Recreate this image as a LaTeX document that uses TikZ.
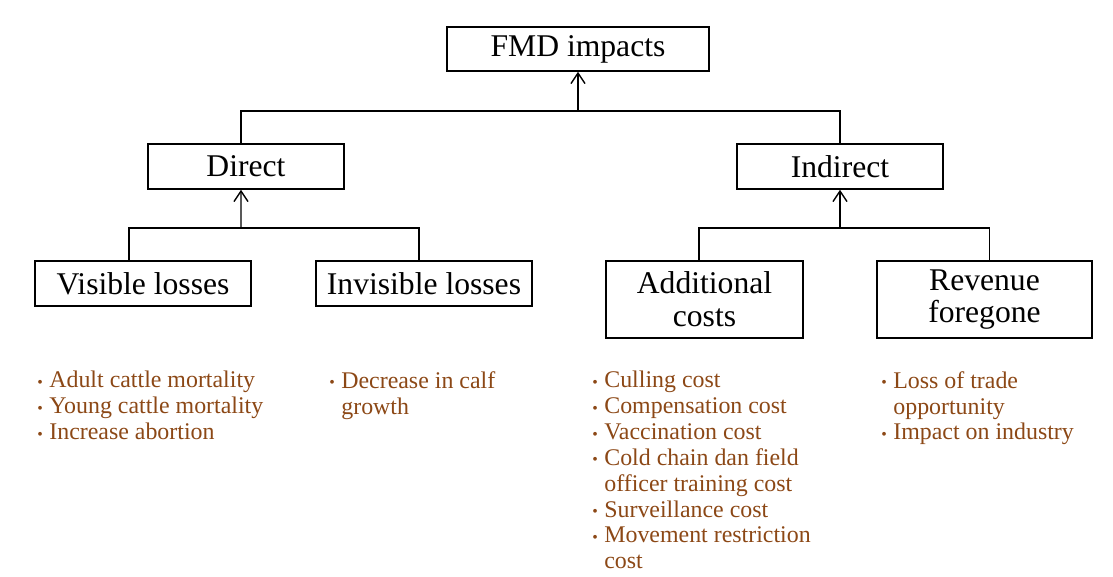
\documentclass[tikz,border=0pt]{standalone}
\usepackage{fontspec}
\setmainfont{Liberation Serif}
\usetikzlibrary{arrows.meta}
\definecolor{itembrown}{RGB}{140,72,22}
\newcommand{\bul}{\makebox[0.24cm][l]{\raisebox{0.05ex}{\small\textbullet}}}
\newcommand{\ind}{\hspace*{0.24cm}}
\tikzset{
    box/.style={draw, line width=0.9pt, inner sep=0pt, align=center,
        font=\fontsize{18}{18.6}\selectfont},
    items/.style={anchor=north west, inner sep=0pt, align=left, text=itembrown,
        font=\fontsize{13.6}{14.7}\selectfont},
    link/.style={line width=0.8pt},
    up/.style={link, -{Straight Barb[length=6pt, width=8pt]}},
}
\begin{document}
\begin{tikzpicture}[x=0.02cm, y=-0.02cm]
    \useasboundingbox (0,0) rectangle (1113,577);

    % boxes
    \node[box, minimum width=5.24cm, minimum height=0.88cm] (fmd) at (578,49) {FMD impacts};
    \node[box, minimum width=3.92cm, minimum height=0.9cm] (dir) at (246,166.5) {Direct};
    \node[box, minimum width=4.12cm, minimum height=0.9cm] (ind) at (840,166.5) {Indirect};
    \node[box, minimum width=4.32cm, minimum height=0.9cm] (vis) at (143,283.5) {Visible losses};
    \node[box, minimum width=4.32cm, minimum height=0.9cm] (inv) at (424,283.5) {Invisible losses};
    \node[box, minimum width=3.94cm, minimum height=1.54cm] (add) at (704.5,299.5) {Additional\\costs};
    \node[box, minimum width=4.3cm, minimum height=1.54cm] (rev) at (984.5,299.5) {Revenue\\foregone};

    % joints
    \coordinate (top) at (578,111);
    \coordinate (left) at (241,228);
    \coordinate (right) at (840,228);

    % connectors
    \draw[up] (top) -- (fmd.south);
    \draw[link] ([xshift=-0.1cm]dir.north) |- (top) -| (ind.north);
    \draw[up] (left) -- ([xshift=-0.1cm]dir.south);
    \draw[link] ([xshift=-0.28cm]vis.north) |- (left) -| ([xshift=-0.1cm]inv.north);
    \draw[up] (right) -- (ind.south);
    \draw[link] ([xshift=-0.11cm]add.north) |- (right) -| ([xshift=0.1cm]rev.north);

    % item lists
    \node[items] (visitems) at (37,371) {\bul Adult cattle mortality\\
        \bul Young cattle mortality\\ \bul Increase abortion};
    \node[items] (invitems) at (329,371) {\bul Decrease in calf\\ \ind growth};
    \node[items] (additems) at (592,371) {\bul Culling cost\\ \bul Compensation cost\\
        \bul Vaccination cost\\ \bul Cold chain dan field\\ \ind officer training cost\\
        \bul Surveillance cost\\ \bul Movement restriction\\ \ind cost};
    \node[items] (revitems) at (881,371) {\bul Loss of trade\\ \ind opportunity\\
        \bul Impact on industry};
\end{tikzpicture}
\end{document}
